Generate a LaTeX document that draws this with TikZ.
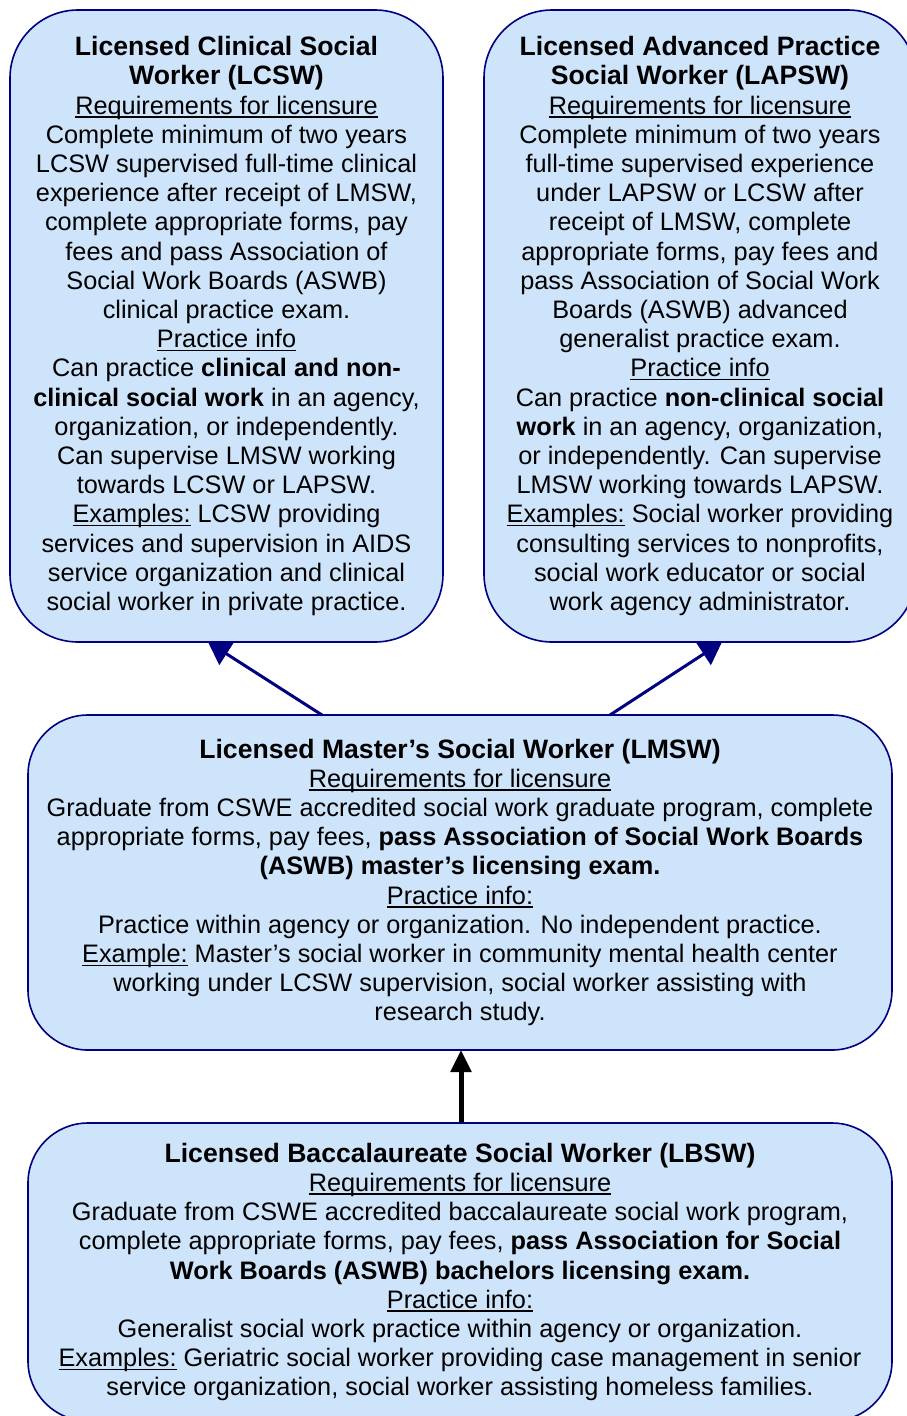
\documentclass[tikz,border=0pt]{standalone}
\usepackage{fontspec}
\setmainfont{Liberation Sans}
\usetikzlibrary{arrows.meta}
\definecolor{boxfill}{RGB}{206,228,250}
\definecolor{boxline}{RGB}{0,0,128}
\newcommand{\ul}[1]{\setbox0\hbox{#1}\rlap{\rule[-3.6pt]{\wd0}{1.6pt}}\box0\relax}
\newcommand{\ttl}[1]{{\fontsize{26.6}{29.2}\selectfont\textbf{#1}}}
\begin{document}
\begin{tikzpicture}[x=1pt,y=-1pt,
  lic/.style={draw=boxline,line width=1.6pt,fill=boxfill,rounded corners=68pt,
    align=center,inner sep=0pt,font=\fontsize{25.3}{29.2}\selectfont},
  navyarrow/.style={draw=boxline,line width=3pt,-{Triangle[length=22pt,width=26pt]}},
  blackarrow/.style={draw=black,line width=5pt,-{Triangle[length=22pt,width=20pt]}}]
\useasboundingbox (0,0) rectangle (907,1416);
\node[lic,minimum width=433pt,minimum height=632pt] (lcsw) at (226.5,326) {%
\ttl{Licensed Clinical Social}\\
\ttl{Worker (LCSW)}\\
\ul{Requirements for licensure}\\
Complete minimum of two years\\
LCSW supervised full-time clinical\\
experience after receipt of LMSW,\\
complete appropriate forms, pay\\
fees and pass Association of\\
Social Work Boards (ASWB)\\
clinical practice exam.\\
\ul{Practice info}\\
Can practice \textbf{clinical and non-}\\
\textbf{clinical social work} in an agency,\\
organization, or independently.\\
Can supervise LMSW working\\
towards LCSW or LAPSW.\\
\ul{Examples:} LCSW providing\\
services and supervision in AIDS\\
service organization and clinical\\
social worker in private practice.};
\node[lic,minimum width=432pt,minimum height=632pt] (lapsw) at (700,326) {%
\ttl{Licensed Advanced Practice}\\
\ttl{Social Worker (LAPSW)}\\
\ul{Requirements for licensure}\\
Complete minimum of two years\\
full-time supervised experience\\
under LAPSW or LCSW after\\
receipt of LMSW, complete\\
appropriate forms, pay fees and\\
pass Association of Social Work\\
Boards (ASWB) advanced\\
generalist practice exam.\\
\ul{Practice info}\\
Can practice \textbf{non-clinical social}\\
\textbf{work} in an agency, organization,\\
or independently. Can supervise\\
LMSW working towards LAPSW.\\
\ul{Examples:} Social worker providing\\
consulting services to nonprofits,\\
social work educator or social\\
work agency administrator.};
\node[lic,rounded corners=60pt,minimum width=864pt,minimum height=335pt] (lmsw) at (460,882.5) {%
\ttl{Licensed Master’s Social Worker (LMSW)}\\
\ul{Requirements for licensure}\\
Graduate from CSWE accredited social work graduate program, complete\\
appropriate forms, pay fees, \textbf{pass Association of Social Work Boards}\\
\textbf{(ASWB) master’s licensing exam.}\\
\ul{Practice info:}\\
Practice within agency or organization. No independent practice.\\
\ul{Example:} Master’s social worker in community mental health center\\
working under LCSW supervision, social worker assisting with\\
research study.};
\node[lic,rounded corners=60pt,minimum width=864pt,minimum height=298pt] (lbsw) at (460,1272) {%
\ttl{Licensed Baccalaureate Social Worker (LBSW)}\\
\ul{Requirements for licensure}\\
Graduate from CSWE accredited baccalaureate social work program,\\
complete appropriate forms, pay fees, \textbf{pass Association for Social}\\
\textbf{Work Boards (ASWB) bachelors licensing exam.}\\
\ul{Practice info:}\\
Generalist social work practice within agency or organization.\\
\ul{Examples:} Geriatric social worker providing case management in senior\\
service organization, social worker assisting homeless families.};
\coordinate (s1) at (322,715);
\coordinate (t1) at (208,642);
\coordinate (s2) at (610,715);
\coordinate (t2) at (722,642);
\coordinate (s3) at (461,1122);
\coordinate (t3) at (461,1050);
\draw[navyarrow] (s1) -- (t1);
\draw[navyarrow] (s2) -- (t2);
\draw[blackarrow] (s3) -- (t3);
\end{tikzpicture}
\end{document}
